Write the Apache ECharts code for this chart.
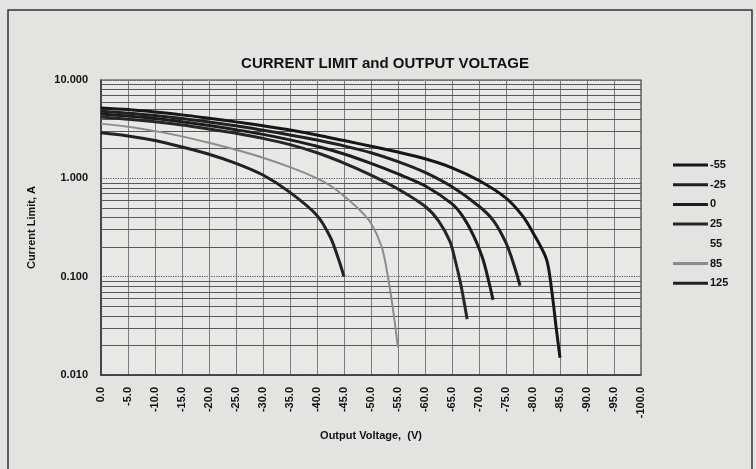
<!DOCTYPE html>
<html>
<head>
<meta charset="utf-8">
<script src="https://cdn.jsdelivr.net/npm/echarts@6/dist/echarts.min.js"></script>
<style>
  html, body { margin: 0; padding: 0; background: #e3e3e1; }
  #chart { width: 756px; height: 469px; }
</style>
</head>
<body>
<div id="chart"></div>
<script>
// Series names (temperature, °C)
const seriesNames = ['-55', '-25', '0', '25', '55', '85', '125'];

// [Output Voltage (V), Current Limit (A)]
const sM55 = [[0,5.2],[-5,5.0],[-10,4.72],[-15,4.42],[-20,4.08],[-25,3.75],[-30,3.42],[-35,3.1],[-40,2.76],[-45,2.42],[-50,2.12],[-55,1.85],[-60,1.58],[-65,1.28],[-70,0.95],[-75,0.63],[-78,0.42],[-80,0.28],[-82.5,0.15],[-83.5,0.07],[-84.3,0.03],[-85,0.015]];
const sM25 = [[0,4.8],[-5,4.6],[-10,4.36],[-15,4.07],[-20,3.74],[-25,3.42],[-30,3.08],[-35,2.76],[-40,2.45],[-45,2.14],[-50,1.82],[-55,1.48],[-60,1.15],[-65,0.82],[-70,0.52],[-72.7,0.37],[-75,0.22],[-76.5,0.13],[-77.6,0.081]];
const s0   = [[0,4.5],[-5,4.3],[-10,4.06],[-15,3.77],[-20,3.45],[-25,3.12],[-30,2.8],[-35,2.46],[-40,2.12],[-45,1.77],[-50,1.42],[-55,1.11],[-60,0.84],[-65,0.55],[-67,0.41],[-69,0.26],[-70.8,0.146],[-72.6,0.058]];
const s25  = [[0,4.2],[-5,4.0],[-10,3.76],[-15,3.48],[-20,3.17],[-25,2.87],[-30,2.55],[-35,2.2],[-40,1.82],[-45,1.43],[-50,1.08],[-55,0.78],[-60,0.52],[-62.5,0.37],[-64.6,0.23],[-65.6,0.146],[-66.7,0.08],[-67.8,0.037]];
const s55  = [[0,3.9],[-5,3.7],[-10,3.4],[-15,3.1],[-20,2.75],[-25,2.4],[-30,2.05],[-35,1.7],[-40,1.35],[-45,1.0],[-50,0.7],[-55,0.4],[-58,0.2],[-60,0.08],[-61,0.03]];
const s85  = [[0,3.6],[-5,3.35],[-10,3.02],[-15,2.67],[-20,2.3],[-25,1.95],[-30,1.62],[-35,1.3],[-40,1.0],[-42.5,0.84],[-45,0.66],[-48,0.47],[-50,0.35],[-52,0.2],[-53,0.11],[-54,0.05],[-55,0.019]];
const s125 = [[0,2.9],[-5,2.7],[-10,2.42],[-15,2.08],[-20,1.76],[-25,1.42],[-30,1.08],[-35,0.72],[-40,0.42],[-42.5,0.25],[-44,0.15],[-45,0.1]];

// Minor log gridlines (2..9 in each decade)
const minorGrid = [0.02,0.03,0.04,0.05,0.06,0.07,0.08,0.09,0.2,0.3,0.4,0.5,0.6,0.7,0.8,0.9,2,3,4,5,6,7,8,9];

const titleText = 'CURRENT LIMIT and OUTPUT VOLTAGE';
const xName = 'Output Voltage,  (V)';
const yName = 'Current Limit, A';

const seriesData = [sM55, sM25, s0, s25, s55, s85, s125];
const seriesColor = ['#161616', '#202020', '#1c1c1c', '#262626', '#e2e2dc', '#8c8c8c', '#222222'];
const seriesWidth = [3, 3, 3, 3, 1, 2, 3];
const seriesOpacity = [1, 1, 1, 1, 0.05, 1, 1];

const font = 'Liberation Sans, Arial, sans-serif';
const chart = echarts.init(document.getElementById('chart'), null, { renderer: 'canvas' });

const series = seriesNames.map((n, i) => ({
  name: n,
  type: 'line',
  data: seriesData[i],
  symbol: 'none',
  showSymbol: false,
  smooth: 0.3,
  z: 5,
  color: seriesColor[i],
  lineStyle: { color: seriesColor[i], width: seriesWidth[i], opacity: seriesOpacity[i] }
}));

series.unshift({
  name: 'grid',
  type: 'line',
  data: [],
  z: 1,
  silent: true,
  markLine: {
    silent: true,
    symbol: ['none', 'none'],
    label: { show: false },
    animation: false,
    lineStyle: { color: '#575757', width: 1.2, type: 'solid' },
    data: minorGrid.map(v => ({ yAxis: v }))
  }
});

const legendData = seriesNames.map((n, i) => ({
  name: n,
  icon: 'rect',
  itemStyle: { color: i === 4 ? 'rgba(0,0,0,0)' : seriesColor[i], opacity: 1 }
}));

chart.setOption({
  animation: false,
  backgroundColor: '#e3e3e1',
  title: {
    text: titleText,
    left: 380, textAlign: 'center',
    top: 51,
    textStyle: { fontFamily: font, fontSize: 15, fontWeight: 'bold', color: '#111' }
  },
  graphic: [{
    type: 'rect',
    shape: { x: 8, y: 10, width: 744, height: 470 },
    style: { fill: 'none', stroke: '#333', lineWidth: 1.5 },
    silent: true
  }],
  legend: {
    orient: 'vertical',
    left: 668, top: 153,
    itemWidth: 35, itemHeight: 3, itemGap: 5.7,
    data: legendData,
    textStyle: { fontFamily: font, fontSize: 11, fontWeight: 'bold', color: '#111', lineHeight: 14, padding: [0, 0, 0, -3] }
  },
  grid: {
    left: 101, right: 115, top: 80, bottom: 94,
    show: true, backgroundColor: '#e8e8e6', borderColor: '#444', borderWidth: 1.2
  },
  xAxis: {
    type: 'value',
    min: -100, max: 0, interval: 5,
    inverse: true,
    name: xName,
    nameLocation: 'middle',
    nameGap: 55,
    nameTextStyle: { fontFamily: font, fontSize: 11, fontWeight: 'bold', color: '#111' },
    axisLine: { lineStyle: { color: '#333', width: 1.5 } },
    axisTick: { show: false },
    axisLabel: {
      rotate: 90, margin: 12,
      fontFamily: font, fontSize: 11, fontWeight: 'bold', color: '#111',
      formatter: v => v.toFixed(1)
    },
    splitLine: { show: true, lineStyle: { color: '#7c7c7c', width: 1 } }
  },
  yAxis: {
    type: 'log',
    logBase: 10,
    min: 0.01, max: 10,
    name: yName,
    nameLocation: 'middle',
    nameGap: 64,
    nameTextStyle: { fontFamily: font, fontSize: 11, fontWeight: 'bold', color: '#111' },
    axisLine: { show: true, lineStyle: { color: '#333', width: 1.5 } },
    axisTick: { show: false },
    axisLabel: {
      margin: 13,
      fontFamily: font, fontSize: 11, fontWeight: 'bold', color: '#111',
      formatter: v => Number(v).toFixed(3)
    },
    splitLine: { show: true, lineStyle: { color: '#555', width: 1.2, type: 'dotted' } }
  },
  series: series
});
</script>
</body>
</html>
